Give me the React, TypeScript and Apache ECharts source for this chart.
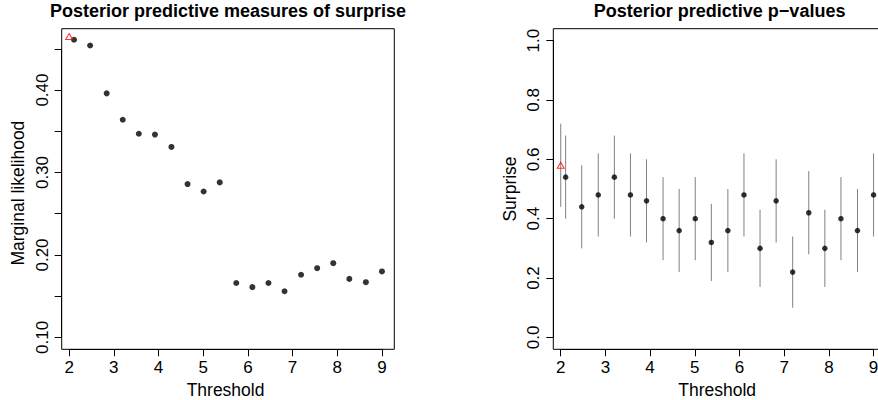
import React, { useEffect, useRef } from "react";
import * as echarts from "echarts";

// ---- data ----
const thresholds = [2.11, 2.47, 2.84, 3.2, 3.56, 3.92, 4.29, 4.65, 5.01, 5.37, 5.74, 6.1, 6.46, 6.82, 7.19, 7.55, 7.91, 8.27, 8.64, 9.0];
const marginalLikelihood = [0.461, 0.454, 0.396, 0.364, 0.347, 0.346, 0.331, 0.286, 0.277, 0.288, 0.166, 0.161, 0.166, 0.156, 0.176, 0.184, 0.19, 0.171, 0.167, 0.18];
const pValues = [0.54, 0.44, 0.48, 0.54, 0.48, 0.46, 0.4, 0.36, 0.4, 0.32, 0.36, 0.48, 0.3, 0.46, 0.22, 0.42, 0.3, 0.4, 0.36, 0.48];
const pLower = [0.4, 0.3, 0.34, 0.4, 0.34, 0.32, 0.26, 0.22, 0.26, 0.19, 0.22, 0.34, 0.17, 0.32, 0.1, 0.28, 0.17, 0.26, 0.22, 0.34];
const pUpper = [0.68, 0.58, 0.62, 0.68, 0.62, 0.6, 0.54, 0.5, 0.54, 0.45, 0.5, 0.62, 0.43, 0.6, 0.34, 0.56, 0.43, 0.54, 0.5, 0.62];
const refThreshold = 2;
const refMarginal = 0.465;
const refP = 0.58;
const refLower = 0.44;
const refUpper = 0.72;
const xTicks = { min: 2, max: 9, step: 1 };
const leftYTicks = { min: 0.1, max: 0.45, step: 0.05 };
const rightYTicks = { min: 0, max: 1, step: 0.2 };

const FONT = "Liberation Sans";

export default function App() {
  const ref = useRef<HTMLDivElement>(null);
  useEffect(() => {
    if (!ref.current) return;
    const chart = echarts.init(ref.current, null, { renderer: "svg" });

    // plot box geometry
    const boxTop = 28.7;
    const boxH = 320.6;
    const boxW = 332.6;
    const leftBoxX = 61.7;
    const rightBoxX = 553.3;
    const boxBottom = boxTop + boxH;
    const xRange = [1.834, 9.276];
    const pxPerX = boxW / (xRange[1] - xRange[0]);
    const leftYRange = [0.0856, 0.4744];
    const rightYRange = [-0.04, 1.04];
    const pxPerLY = boxH / (leftYRange[1] - leftYRange[0]);
    const pxPerRY = boxH / (rightYRange[1] - rightYRange[0]);

    const axisGrid = (boxX: number, yr: number[], pxY: number, yt: { min: number; max: number }) => {
      const left = boxX + (xTicks.min - xRange[0]) * pxPerX;
      const width = (xTicks.max - xTicks.min) * pxPerX;
      const top = boxBottom - (yt.max - yr[0]) * pxY;
      const height = (yt.max - yt.min) * pxY;
      return { left, width, top, height, xOff: boxBottom - (top + height), yOff: left - boxX };
    };
    const gL = axisGrid(leftBoxX, leftYRange, pxPerLY, leftYTicks);
    const gR = axisGrid(rightBoxX, rightYRange, pxPerRY, rightYTicks);

    const tickStyle = { show: true, length: 7, lineStyle: { color: "#000", width: 1 }, inside: false };
    const lblStyle = { fontFamily: FONT, fontSize: 17, color: "#000" };
    const nameStyle = { fontFamily: FONT, fontSize: 17.5, color: "#000" };

    const hiddenAxis = (min: number, max: number, gridIndex: number) => ({
      type: "value" as const, gridIndex, min, max, show: false,
      splitLine: { show: false },
    });

    const xAxisVisible = (gridIndex: number, off: number) => ({
      type: "value" as const, gridIndex, min: xTicks.min, max: xTicks.max, interval: xTicks.step,
      position: "bottom" as const, offset: off,
      axisLine: { show: true, onZero: false, lineStyle: { color: "#000", width: 1 } },
      axisTick: tickStyle,
      splitLine: { show: false },
      axisLabel: { ...lblStyle, margin: 10, formatter: (v: number) => String(Math.round(v)) },
      name: "Threshold", nameLocation: "middle" as const, nameGap: 31.5, nameTextStyle: nameStyle,
    });

    const gridBase = { outerBoundsMode: "none", containLabel: false };

    const option: any = {
      animation: false,
      backgroundColor: "#fff",
      textStyle: { fontFamily: FONT },
      grid: [
        { ...gridBase, left: leftBoxX, top: boxTop, width: boxW, height: boxH, show: true, borderColor: "#000", borderWidth: 1, backgroundColor: "transparent" },
        { ...gridBase, left: rightBoxX, top: boxTop, width: boxW, height: boxH, show: true, borderColor: "#000", borderWidth: 1, backgroundColor: "transparent" },
        { ...gridBase, left: gL.left, top: gL.top, width: gL.width, height: gL.height, show: false },
        { ...gridBase, left: gR.left, top: gR.top, width: gR.width, height: gR.height, show: false },
      ],
      xAxis: [
        hiddenAxis(xRange[0], xRange[1], 0),
        hiddenAxis(xRange[0], xRange[1], 1),
        xAxisVisible(2, gL.xOff),
        xAxisVisible(3, gR.xOff),
      ],
      yAxis: [
        hiddenAxis(leftYRange[0], leftYRange[1], 0),
        hiddenAxis(rightYRange[0], rightYRange[1], 1),
        {
          type: "value", gridIndex: 2, min: leftYTicks.min, max: leftYTicks.max, interval: leftYTicks.step,
          position: "left", offset: gL.yOff,
          axisLine: { show: true, onZero: false, lineStyle: { color: "#000", width: 1 } },
          axisTick: tickStyle, splitLine: { show: false },
          axisLabel: {
            ...lblStyle, rotate: 90, margin: 11,
            formatter: (v: number) => (Math.round(v * 100) % 10 === 0 ? v.toFixed(2) : ""),
          },
          name: "Marginal likelihood", nameLocation: "middle", nameGap: 35, nameTextStyle: nameStyle,
        },
        {
          type: "value", gridIndex: 3, min: rightYTicks.min, max: rightYTicks.max, interval: rightYTicks.step,
          position: "left", offset: gR.yOff,
          axisLine: { show: true, onZero: false, lineStyle: { color: "#000", width: 1 } },
          axisTick: tickStyle, splitLine: { show: false },
          axisLabel: { ...lblStyle, rotate: 90, margin: 11, formatter: (v: number) => v.toFixed(1) },
          name: "Surprise", nameLocation: "middle", nameGap: 34, nameTextStyle: nameStyle,
        },
      ],
      graphic: [
        {
          type: "text", x: leftBoxX + boxW / 2, y: 2,
          style: { text: "Posterior predictive measures of surprise", font: `bold 18px "${FONT}"`, fill: "#000", textAlign: "center", textVerticalAlign: "top" },
        },
        {
          type: "text", x: rightBoxX + boxW / 2, y: 2,
          style: { text: "Posterior predictive p\u2212values", font: `bold 18px "${FONT}"`, fill: "#000", textAlign: "center", textVerticalAlign: "top" },
        },
      ],
      series: [
        {
          type: "scatter", xAxisIndex: 0, yAxisIndex: 0, symbol: "circle", symbolSize: 6,
          itemStyle: { color: "#000" },
          data: thresholds.map((t, i) => [t, marginalLikelihood[i]]),
        },
        {
          type: "scatter", xAxisIndex: 0, yAxisIndex: 0, symbol: "triangle", symbolSize: [7, 6],
          itemStyle: { color: "rgba(0,0,0,0)", borderColor: "#ff0000", borderWidth: 1 },
          data: [[refThreshold, refMarginal]],
        },
        {
          type: "custom", xAxisIndex: 1, yAxisIndex: 1,
          encode: { x: 0, y: [1, 2] },
          data: [[refThreshold, refLower, refUpper], ...thresholds.map((t, i) => [t, pLower[i], pUpper[i]])],
          renderItem: (params: any, api: any) => {
            const x = api.value(0);
            const p1 = api.coord([x, api.value(1)]);
            const p2 = api.coord([x, api.value(2)]);
            return {
              type: "line",
              shape: { x1: p1[0], y1: p1[1], x2: p2[0], y2: p2[1] },
              style: { stroke: "#808080", lineWidth: 1 },
            };
          },
        },
        {
          type: "scatter", xAxisIndex: 1, yAxisIndex: 1, symbol: "circle", symbolSize: 5.5,
          itemStyle: { color: "#000" },
          data: thresholds.map((t, i) => [t, pValues[i]]),
        },
        {
          type: "scatter", xAxisIndex: 1, yAxisIndex: 1, symbol: "triangle", symbolSize: [7, 6],
          itemStyle: { color: "rgba(0,0,0,0)", borderColor: "#ff0000", borderWidth: 1 },
          data: [[refThreshold, refP]],
        },
      ],
    };
    chart.setOption(option);
    return () => chart.dispose();
  }, []);
  return <div ref={ref} style={{ position: "fixed", left: 0, top: 0, width: 878, height: 400 }} />;
}
